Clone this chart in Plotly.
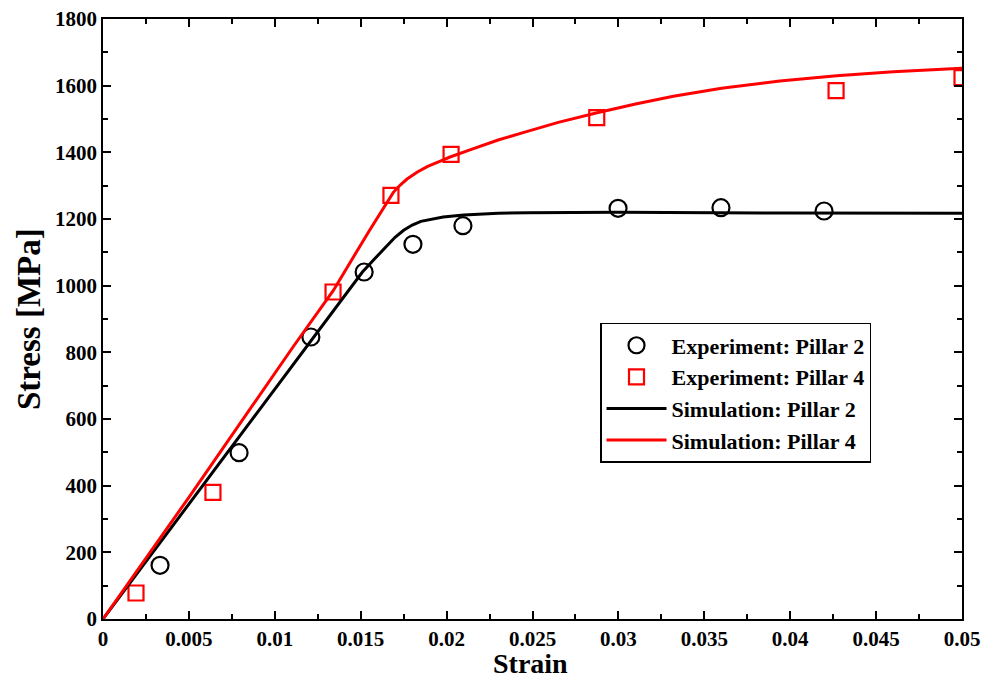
import plotly.graph_objects as go

# Experimental data
exp2_strain = [0.00332, 0.00792, 0.0121, 0.0152, 0.01804, 0.02095, 0.02998, 0.03597, 0.04197]
exp2_stress = [161, 499, 846, 1041, 1124, 1180, 1232, 1234, 1224]
exp4_strain = [0.00192, 0.0064, 0.01339, 0.01676, 0.02026, 0.02874, 0.04267, 0.05]
exp4_stress = [78, 380, 981, 1271, 1394, 1504, 1585, 1624]

# Simulation curves
sim2_strain = [0, 0.0151, 0.0158, 0.0164, 0.0170, 0.0175, 0.0180, 0.0185, 0.0191, 0.0198, 0.021,
               0.023, 0.0247, 0.03, 0.04, 0.05]
sim2_stress = [0, 1041, 1080, 1114, 1145, 1166, 1182, 1193, 1200, 1206, 1212,
               1217, 1219, 1220, 1218, 1217]
sim4_strain = [0, 0.005, 0.0111, 0.0134, 0.0155, 0.0161, 0.0165, 0.0169, 0.0173, 0.0177, 0.0183,
               0.0189, 0.0196, 0.0202, 0.0214, 0.023, 0.0245, 0.0265, 0.0287, 0.031, 0.0332,
               0.036, 0.0394, 0.0427, 0.046, 0.05]
sim4_stress = [0, 365, 819, 985, 1165, 1215, 1250, 1280, 1302, 1320, 1341,
               1358, 1373, 1386, 1408, 1437, 1460, 1490, 1518, 1545, 1568,
               1592, 1614, 1630, 1642, 1652]

x_ticks = [0, 0.005, 0.01, 0.015, 0.02, 0.025, 0.03, 0.035, 0.04, 0.045, 0.05]
x_labels = ["0", "0.005", "0.01", "0.015", "0.02", "0.025", "0.03", "0.035", "0.04", "0.045", "0.05"]
y_ticks = [0, 200, 400, 600, 800, 1000, 1200, 1400, 1600, 1800]

FONT = "Liberation Serif"

fig = go.Figure()
fig.add_trace(go.Scatter(x=exp2_strain, y=exp2_stress, mode="markers", name="<b>Experiment: Pillar 2</b>",
                         legendgroup="a",
                         marker=dict(symbol="circle-open", size=17, color="black", line=dict(width=2.2))))
fig.add_trace(go.Scatter(x=exp4_strain, y=exp4_stress, mode="markers", name="<b>Experiment: Pillar 4</b>",
                         legendgroup="b",
                         marker=dict(symbol="square-open", size=15, color="red", line=dict(width=2.2))))
fig.add_trace(go.Scatter(x=sim2_strain, y=sim2_stress, mode="lines", name="<b>Simulation: Pillar 2</b>",
                         legendgroup="c",
                         line=dict(color="black", width=3)))
fig.add_trace(go.Scatter(x=sim4_strain, y=sim4_stress, mode="lines", name="<b>Simulation: Pillar 4</b>",
                         legendgroup="d",
                         line=dict(color="red", width=3)))

axis_common = dict(showgrid=False, zeroline=False, showline=True, linecolor="black", linewidth=1.5,
                   mirror="allticks", ticks="inside", ticklen=8, tickwidth=1.5, tickcolor="black",
                   automargin=False,
                   tickfont=dict(family=FONT, size=21, color="black"))

fig.update_xaxes(range=[0, 0.05], tickvals=x_ticks, ticktext=["<b>%s</b>" % t for t in x_labels],
                 minor=dict(ticks="inside", ticklen=5, tickwidth=1.5, tickcolor="black", dtick=0.0025),
                 **axis_common)
fig.update_yaxes(range=[0, 1800], tickvals=y_ticks, ticktext=["<b>%d</b>" % t for t in y_ticks],
                 minor=dict(ticks="inside", ticklen=5, tickwidth=1.5, tickcolor="black", dtick=100),
                 **axis_common)

fig.add_annotation(text="<b>Strain</b>", xref="paper", yref="paper", x=0.4977, y=-0.1033,
                   xanchor="center", yanchor="bottom", showarrow=False,
                   font=dict(family=FONT, size=28, color="black"))
fig.add_annotation(text="<b>Stress [MPa]</b>", xref="paper", yref="paper", x=-0.0861, y=0.5,
                   xanchor="center", yanchor="middle", showarrow=False, textangle=-90,
                   font=dict(family=FONT, size=33, color="black"))

fig.update_layout(
    width=985, height=681,
    margin=dict(l=103, r=23, t=19, b=62),
    plot_bgcolor="white", paper_bgcolor="white",
    font=dict(family=FONT, color="black"),
    legend=dict(x=0.5786, y=0.4934, xanchor="left", yanchor="top",
                bgcolor="white", bordercolor="black", borderwidth=1.5,
                font=dict(family=FONT, size=22, color="black"),
                traceorder="grouped", tracegroupgap=0, itemwidth=60),
)

fig.write_html("out.html")
